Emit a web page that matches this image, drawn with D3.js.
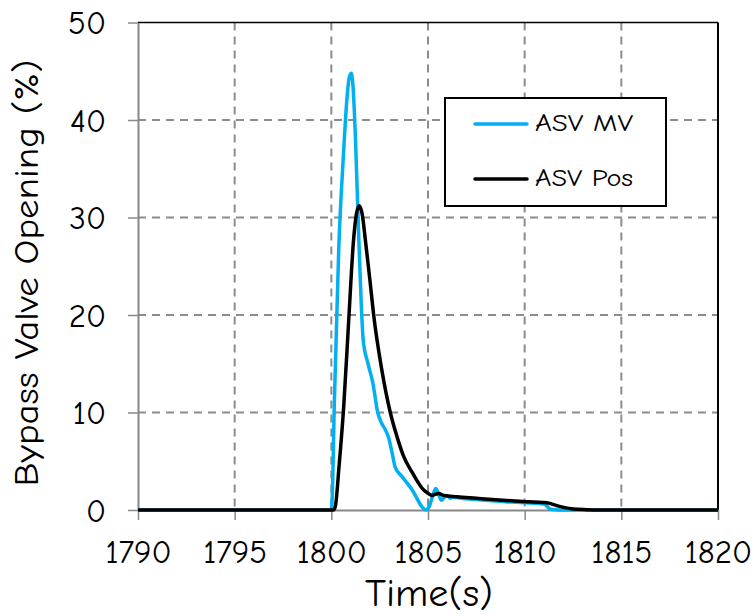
<!DOCTYPE html>
<html>
<head>
<meta charset="utf-8">
<script src="https://cdn.jsdelivr.net/npm/d3@7"></script>
<style>
  html, body { margin: 0; padding: 0; background: #fff; }
  svg { display: block; }
  text { font-family: "Comic Sans MS", "Comic Neue", "DejaVu Sans", sans-serif; fill: #000; }
</style>
</head>
<body>
<svg id="chart" width="754" height="616"></svg>
<script>
// ---- data ----
const mvTime = [1790, 1800.0, 1800.05, 1800.15, 1800.38, 1800.64, 1800.8, 1800.92, 1801.03, 1801.12, 1801.25, 1801.4, 1801.55, 1801.65, 1801.9, 1802.15, 1802.4, 1802.6, 1802.8, 1802.95, 1803.15, 1803.3, 1803.67, 1804.2, 1804.7, 1804.87, 1805.05, 1805.25, 1805.4, 1805.55, 1805.7, 1805.85, 1806.0, 1806.15, 1806.3, 1807, 1808, 1809, 1810, 1811, 1811.15, 1811.3, 1811.6, 1812, 1813, 1820];
const mvValue = [0, 0, 1.5, 10.6, 26.6, 36.9, 42, 44.3, 44.8, 43.5, 38, 29, 21, 17.4, 15, 13, 10, 8.9, 8.2, 7.5, 5.8, 4.4, 3.4, 2.0, 0.3, 0.0, 0.3, 1.5, 2.2, 1.6, 1.0, 1.3, 1.5, 1.2, 1.3, 1.15, 1.0, 0.85, 0.75, 0.62, 0.4, 0.1, 0.02, 0, 0, 0];

const posTime = [1790, 1800.1, 1800.2, 1800.4, 1800.64, 1800.9, 1801.15, 1801.3, 1801.45, 1801.6, 1801.76, 1802.0, 1802.19, 1802.6, 1803.05, 1803.4, 1803.74, 1804.2, 1804.78, 1805.05, 1805.2, 1805.55, 1805.8, 1806.5, 1807.5, 1808.5, 1809.5, 1810.5, 1811.15, 1811.5, 1811.85, 1812.5, 1813.2, 1813.9, 1820];
const posValue = [0, 0, 0.3, 4.5, 10.6, 19.5, 27.7, 30.4, 31.2, 30.3, 27.7, 23.5, 20, 14.5, 10, 7.5, 5.5, 3.8, 2.05, 1.65, 1.5, 1.7, 1.5, 1.35, 1.2, 1.05, 0.92, 0.82, 0.75, 0.55, 0.35, 0.1, 0.03, 0, 0];

const xTicks = [1790, 1795, 1800, 1805, 1810, 1815, 1820];
const yTicks = [0, 10, 20, 30, 40, 50];
const seriesNames = ["ASV MV", "ASV Pos"];
const seriesColors = ["#00B0F0", "#000000"];

// ---- layout ----
const svg = d3.select("#chart");
const L = 138, R = 718, T = 22.5, B = 510;
const x = d3.scaleLinear().domain([1790, 1820]).range([L, R]);
const y = d3.scaleLinear().domain([0, 50]).range([B, T]);

// gridlines
const grid = svg.append("g");
grid.selectAll("line.vg").data(xTicks.slice(1, -1)).enter().append("line")
  .attr("x1", d => x(d)).attr("x2", d => x(d)).attr("y1", T).attr("y2", B)
  .attr("stroke", "#8c8c8c").attr("stroke-width", 2).attr("stroke-dasharray", "8,6");
grid.selectAll("line.hg").data(yTicks.slice(1, -1)).enter().append("line")
  .attr("x1", L).attr("x2", R).attr("y1", d => y(d)).attr("y2", d => y(d))
  .attr("stroke", "#8c8c8c").attr("stroke-width", 2).attr("stroke-dasharray", "8,6");

// frame top/right
svg.append("line").attr("x1", L).attr("x2", R).attr("y1", T).attr("y2", T).attr("stroke", "#000").attr("stroke-width", 1.5);
svg.append("line").attr("x1", R).attr("x2", R).attr("y1", T).attr("y2", B).attr("stroke", "#000").attr("stroke-width", 2);

// axes
const xAxis = svg.append("g").attr("transform", `translate(0,${B})`)
  .call(d3.axisBottom(x).tickValues(xTicks).tickSize(10).tickSizeOuter(0).tickFormat(d3.format("d")));
const yAxis = svg.append("g").attr("transform", `translate(${L},0)`)
  .call(d3.axisLeft(y).tickValues(yTicks).tickSize(10).tickSizeOuter(0));
[xAxis, yAxis].forEach(a => {
  a.select(".domain").attr("stroke", "#888").attr("stroke-width", 2);
  a.selectAll(".tick line").attr("stroke", "#888").attr("stroke-width", 1.5);
  a.selectAll(".tick text").attr("font-size", 33).attr("font-family", '"Comic Sans MS", "Comic Neue", "DejaVu Sans", sans-serif').attr("fill", "#000");
});
xAxis.selectAll(".tick text").attr("y", 53).attr("dy", 0);
yAxis.selectAll(".tick text").attr("x", -32).attr("dy", "0.34em");

// lines
const line = d3.line().x(d => x(d[0])).y(d => y(d[1])).curve(d3.curveMonotoneX);
const mvData = mvTime.map((t, i) => [t, mvValue[i]]);
const posData = posTime.map((t, i) => [t, posValue[i]]);
svg.append("path").datum(mvData).attr("d", line).attr("fill", "none")
  .attr("stroke", seriesColors[0]).attr("stroke-width", 3.5).attr("stroke-linejoin", "round");
svg.append("path").datum(posData).attr("d", line).attr("fill", "none")
  .attr("stroke", seriesColors[1]).attr("stroke-width", 3.5).attr("stroke-linejoin", "round");

// legend
const lg = svg.append("g");
lg.append("rect").attr("x", 445).attr("y", 98).attr("width", 221).attr("height", 108)
  .attr("fill", "#fff").attr("stroke", "#000").attr("stroke-width", 2);
[124, 179].forEach((ly, i) => {
  lg.append("line").attr("x1", 475).attr("x2", 527).attr("y1", ly).attr("y2", ly)
    .attr("stroke", seriesColors[i]).attr("stroke-width", 3.5).attr("stroke-linecap", "round");
  lg.append("text").attr("x", 535).attr("y", ly + 7).attr("font-size", 24)
    .attr("textLength", 98).attr("lengthAdjust", "spacingAndGlyphs").text(seriesNames[i]);
});

// axis titles
svg.append("text").attr("x", 429).attr("y", 606).attr("text-anchor", "middle")
  .attr("font-size", 38).attr("textLength", 128).attr("lengthAdjust", "spacingAndGlyphs").text("Time(s)");
svg.append("text").attr("transform", `translate(38,273) rotate(-90)`)
  .attr("text-anchor", "middle").attr("font-size", 35)
  .attr("textLength", 427).attr("lengthAdjust", "spacingAndGlyphs").text("Bypass Valve Opening (%)");
</script>
</body>
</html>
